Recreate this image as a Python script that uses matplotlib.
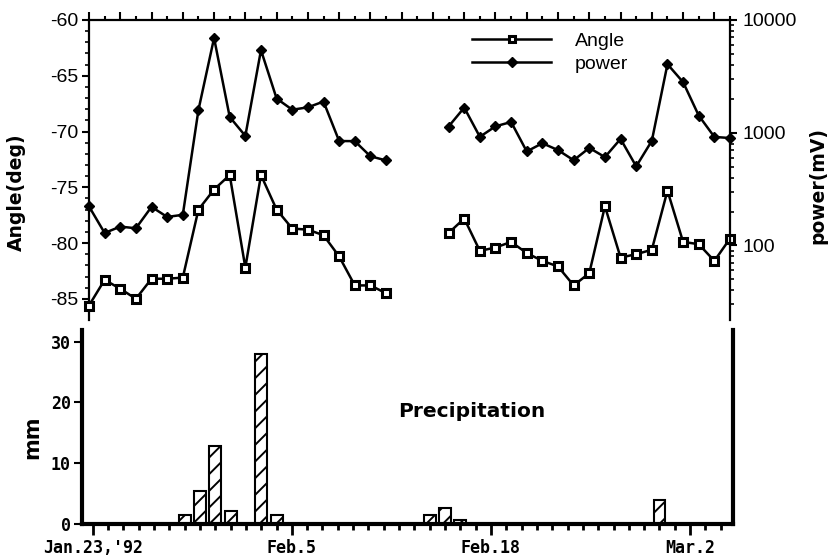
import matplotlib
matplotlib.use("Agg")
import matplotlib.pyplot as plt
import numpy as np
from matplotlib.ticker import MultipleLocator, FixedLocator, LogLocator, NullFormatter

# data: day offsets from Jan.23,'92 (nan = no measurement)
nan = np.nan
days = list(range(0, 42))

angle = [-85.6, -83.3, -84.1, -85.0, -83.2, -83.2, -83.1, -77.0, -75.2, -73.9,
         -82.2, -73.9, -77.0, -78.7, -78.8, -79.3, -81.2, -83.8, -83.8, -84.5,
         nan, nan, nan,
         -79.1, -77.8, -80.7, -80.4, -79.9, -80.9, -81.6, -82.1, -83.8, -82.7,
         -76.7, -81.3, -81.0, -80.6, -75.3, -79.9, -80.1, -81.6, -79.6]

power = [222, 129, 147, 142, 220, 179, 187, 1590, 6920, 1380,
         937, 5410, 2010, 1600, 1680, 1890, 844, 842, 618, 568,
         nan, nan, nan,
         1135, 1670, 920, 1140, 1245, 682, 807, 701, 570, 733,
         608, 881, 503, 847, 4055, 2810, 1420, 918, 897]

rain_days = [6, 7, 8, 9, 11, 12, 22, 23, 24, 37]
rain_mm = [1.4, 5.4, 12.9, 2.2, 27.9, 1.5, 1.5, 2.6, 0.6, 3.9]

date_ticks = [0, 13, 26, 39]
date_labels = ["Jan.23,'92", "Feb.5", "Feb.18", "Mar.2"]

W, H = 831, 558
def px_axes(l, t, r, b):
    return [l / W, 1 - b / H, (r - l) / W, (b - t) / H]

plt.rcParams['hatch.linewidth'] = 1.4
sans = "Liberation Sans"
mono = "DejaVu Sans Mono"

fig = plt.figure(figsize=(W / 100, H / 100), dpi=100)

# ---------------- top panel: angle + power ----------------
ax = fig.add_axes(px_axes(89, 20, 730, 320))
ax2 = ax.twinx()

ang_lim = (-86.9, -60)
deg_per_decade = 112.7 / 11.15
p_lo = 10 ** (4 - (ang_lim[1] - ang_lim[0]) / deg_per_decade)

l1, = ax.plot(days, angle, color='black', lw=1.8, marker='s', ms=5.5,
              mfc='white', mec='black', mew=2.2, clip_on=False, zorder=3)
l2, = ax2.plot(days, power, color='black', lw=1.8, marker='D', ms=5.5,
               mfc='black', mec='black', clip_on=False, zorder=3)

ax.set_xlim(0, 41)
ax.set_ylim(*ang_lim)
ax2.set_yscale('log')
ax2.set_ylim(p_lo, 10000)

for a in (ax, ax2):
    a.spines['bottom'].set_visible(False)
    for s in a.spines.values():
        s.set_linewidth(1.6)
ax.spines['right'].set_visible(False)
ax2.spines['left'].set_visible(False)
ax2.spines['top'].set_visible(False)

ax.xaxis.set_major_locator(MultipleLocator(2))
ax.xaxis.set_minor_locator(MultipleLocator(1))
ax.tick_params(axis='x', which='both', bottom=False, top=True, labelbottom=False,
               labeltop=False, direction='out', width=1.5)
ax.tick_params(axis='x', which='major', length=6)
ax.tick_params(axis='x', which='minor', length=3)

ax.yaxis.set_major_locator(FixedLocator([-85, -80, -75, -70, -65, -60]))
ax.yaxis.set_minor_locator(MultipleLocator(1))
ax.set_yticklabels(['-85', '-80', '-75', '-70', '-65', '-60'])
ax.tick_params(axis='y', which='major', length=5, width=1.5, pad=3, labelsize=14)
ax.tick_params(axis='y', which='minor', length=3, width=1.2)
for t in ax.get_yticklabels():
    t.set_fontfamily(sans)

ax2.yaxis.set_major_locator(FixedLocator([100, 1000, 10000]))
ax2.yaxis.set_minor_locator(LogLocator(base=10, subs=np.arange(2, 10)))
ax2.yaxis.set_minor_formatter(NullFormatter())
ax2.set_yticklabels(['100', '1000', '10000'])
ax2.tick_params(axis='y', which='major', length=5, width=1.5, pad=4, labelsize=14)
ax2.tick_params(axis='y', which='minor', length=3, width=1.2)
for t in ax2.get_yticklabels():
    t.set_fontfamily(sans)

# axis titles placed at their spots in the figure
fig.text(16 / W, 1 - 192 / H, 'Angle(deg)', rotation=90, ha='center', va='center',
         fontsize=13.5, fontweight='bold', family='DejaVu Sans')
fig.text(818 / W, 1 - 186 / H, 'power(mV)', rotation=90, ha='center', va='center',
         fontsize=13.5, fontweight='bold', family='DejaVu Sans')

leg = ax2.legend([l1, l2], ['Angle', 'power'], loc='upper left',
                 bbox_to_anchor=(0.597, 0.96), frameon=False, handlelength=4.1,
                 handletextpad=1.2, labelspacing=0.3, borderpad=0, borderaxespad=0,
                 markerscale=0.85, prop={'family': sans, 'size': 14})

# ---------------- bottom panel: precipitation ----------------
axb = fig.add_axes(px_axes(82, 330, 733, 524))
axb.bar(rain_days, rain_mm, width=0.78, facecolor='white', edgecolor='black',
        lw=1.5, hatch='//', zorder=2)
axb.set_xlim(-0.7, 41.8)
axb.set_ylim(0, 31.9)
axb.spines['top'].set_visible(False)
for s in ('left', 'right', 'bottom'):
    axb.spines[s].set_linewidth(3)

axb.xaxis.set_major_locator(FixedLocator(date_ticks))
axb.xaxis.set_minor_locator(MultipleLocator(1))
axb.set_xticklabels(date_labels)
axb.tick_params(axis='x', which='major', length=8, width=2, pad=3, labelsize=12)
axb.tick_params(axis='x', which='minor', length=4, width=2)
axb.set_yticks([0, 10, 20, 30])
axb.tick_params(axis='y', which='major', length=6, width=1.5, pad=2, labelsize=12)
for t in axb.get_xticklabels() + axb.get_yticklabels():
    t.set_fontfamily(mono)
    t.set_fontweight('bold')

fig.text(32 / W, 1 - 437 / H, 'mm', rotation=90, ha='center', va='center',
         fontsize=15, fontweight='bold', family='DejaVu Sans')
axb.text(0.599, 0.58, 'Precipitation', transform=axb.transAxes, ha='center',
         va='center', fontsize=14.5, fontweight='bold', family='DejaVu Sans')

fig.savefig('out.png', dpi=100)
